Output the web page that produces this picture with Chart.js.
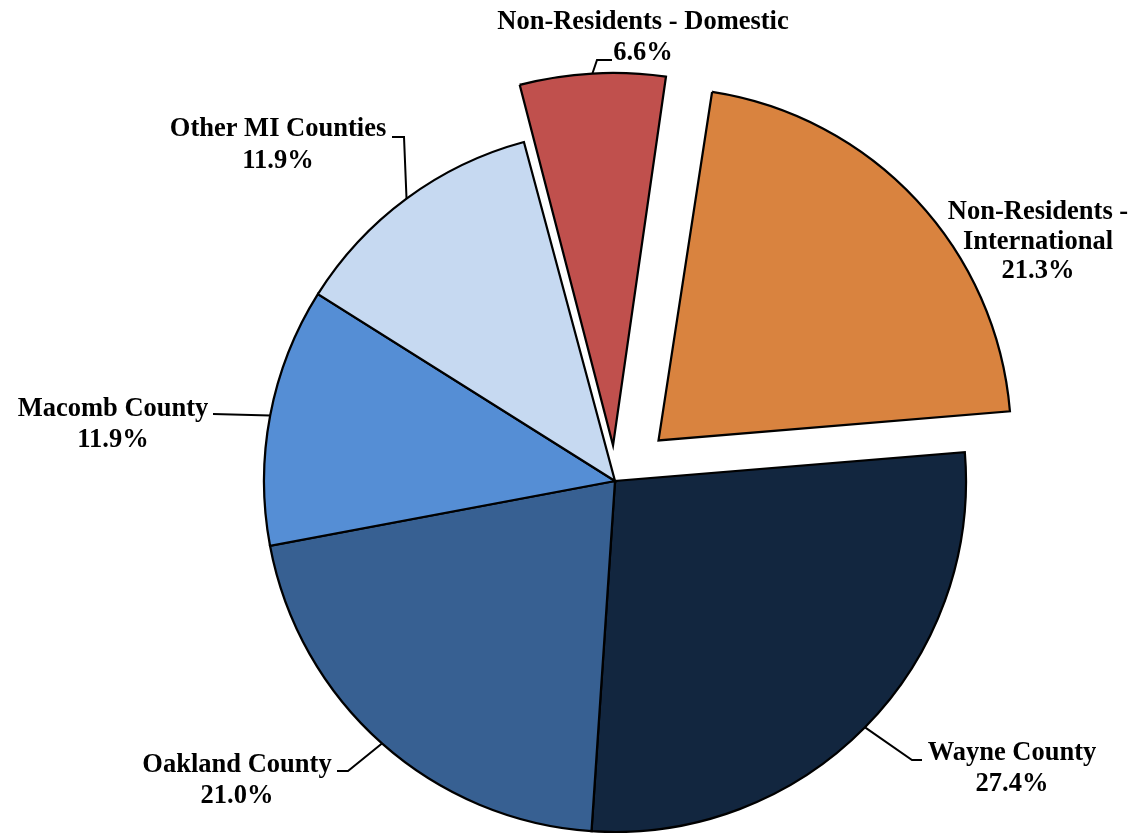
<!DOCTYPE html>
<html lang="en">
<head>
  <meta charset="UTF-8" />
  <title>Student Origin</title>
  <style>
    body { margin: 0; background: #fff; }
    #wrap { width: 1144px; height: 833px; }
  </style>
</head>
<body>
  <div id="wrap">
    <canvas id="pieCanvas" width="1144" height="833"></canvas>
  </div>

  <script src="https://cdn.jsdelivr.net/npm/chart.js"></script>
  <script>
    // data
    const categories = ['Wayne County', 'Oakland County', 'Macomb County', 'Other MI Counties',
                        'Non-Residents - Domestic', 'Non-Residents - International'];
    const shares = [27.4, 21.0, 11.9, 11.9, 6.6, 21.3];
    const labelNames = [['Wayne County'], ['Oakland County'], ['Macomb County'], ['Other MI Counties'],
                        ['Non-Residents - Domestic'], ['Non-Residents -', 'International']];

    const sliceColors = ['#12263F', '#376092', '#558ED5', '#C6D9F1', '#C0504D', '#D9833F'];
    const explode = [0, 0, 0, 0, 143, 238];

    // label placement: center x, first baseline, line gap, elbow and end of leader line
    const labelLayout = [
      { x: 1012, y: 760, gap: 31, elbow: [912, 760], end: [922, 760] },
      { x: 237, y: 772, gap: 31, elbow: [348, 771], end: [337, 771] },
      { x: 113, y: 416, gap: 31, elbow: null, end: [213, 414] },
      { x: 278, y: 136, gap: 32, elbow: [404, 137], end: [392, 137] },
      { x: 643, y: 29, gap: 31, elbow: [597, 60], end: [612, 60] },
      { x: 1038, y: 219, gap: 29.5, elbow: null, end: null }
    ];
    const leaderFrom = [true, true, true, true, true, false];

    const pieLabels = {
      id: 'pieLabels',
      afterDraw(chart) {
        const ctx = chart.ctx;
        const arcs = chart.getDatasetMeta(0).data;
        ctx.save();
        ctx.strokeStyle = '#000';
        ctx.lineWidth = 2;
        arcs.forEach((arc, i) => {
          const lay = labelLayout[i];
          if (leaderFrom[i]) {
            const mid = (arc.startAngle + arc.endAngle) / 2;
            const circ = arc.endAngle - arc.startAngle;
            const off = (explode[i] || 0) / 4;
            const shift = off * (1 + 1 - Math.sin(Math.min(Math.PI, circ)));
            const sx = arc.x + Math.cos(mid) * (arc.outerRadius + shift);
            const sy = arc.y + Math.sin(mid) * (arc.outerRadius + shift);
            ctx.beginPath();
            ctx.moveTo(sx, sy);
            if (lay.elbow) ctx.lineTo(lay.elbow[0], lay.elbow[1]);
            ctx.lineTo(lay.end[0], lay.end[1]);
            ctx.stroke();
          }
          ctx.fillStyle = '#000';
          ctx.font = 'bold 26.5px "Liberation Serif", "Times New Roman", serif';
          ctx.textAlign = 'center';
          ctx.textBaseline = 'alphabetic';
          const lines = labelNames[i].concat([shares[i].toFixed(1) + '%']);
          lines.forEach((t, k) => ctx.fillText(t, lay.x, lay.y + k * lay.gap));
        });
        ctx.restore();
      }
    };

    new Chart(document.getElementById('pieCanvas'), {
      type: 'pie',
      data: {
        labels: categories,
        datasets: [{
          data: shares,
          backgroundColor: sliceColors,
          borderColor: '#000',
          borderWidth: 2.25,
          borderJoinStyle: 'miter',
          offset: explode
        }]
      },
      options: {
        responsive: false,
        animation: false,
        events: [],
        rotation: 85.3,
        radius: 351,
        layout: { padding: { left: 86, right: 0, top: 129, bottom: 0 } },
        plugins: {
          legend: { display: false },
          tooltip: { enabled: false }
        }
      },
      plugins: [pieLabels]
    });
  </script>
</body>
</html>
